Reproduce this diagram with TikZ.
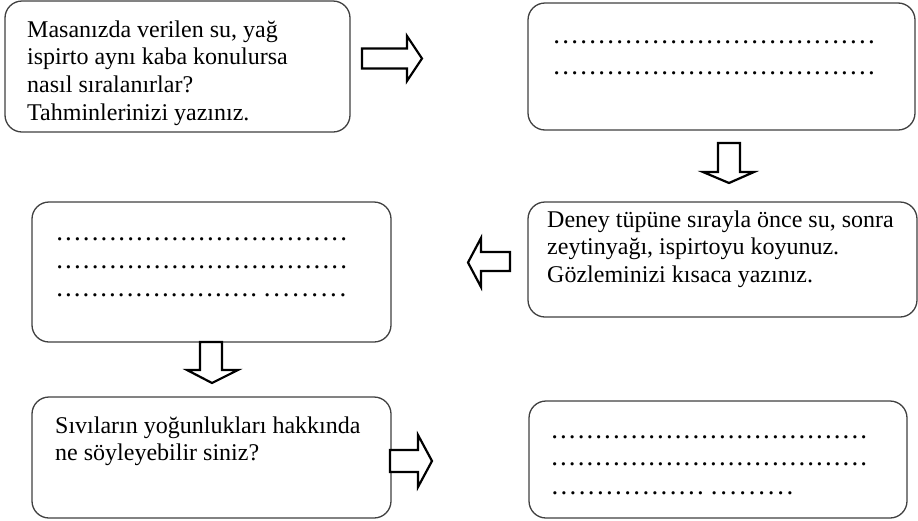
\documentclass[tikz,border=0pt]{standalone}
\usepackage{fontspec}
\setmainfont{Liberation Serif}
\tikzset{
  box/.style={draw=black!75, line width=1.3pt, rounded corners=17pt, fill=white},
  txt/.style={anchor=base west, inner sep=0pt, font=\fontsize{24pt}{27.8pt}\selectfont},
  dotrow/.style={anchor=base west, inner sep=0pt, font=\fontsize{27pt}{30pt}\selectfont},
  blockarrow/.style={draw=black, line width=2.2pt, fill=white, line join=miter, miter limit=20}
}
\newcommand{\dotsrow}[1]{\hbox to #1{\xleaders\hbox to 8.8pt{\hss.\hss}\hfill}}
\begin{document}
\begin{tikzpicture}[x=1pt,y=-1pt]
\useasboundingbox (0,0) rectangle (918,520);
% boxes
\draw[box] (5,1) rectangle (350,132) node[pos=0.5, inner sep=0] (b1) {};
\draw[box] (528,3) rectangle (915,130) node[pos=0.5, inner sep=0] (b2) {};
\draw[box] (32,202) rectangle (391,342) node[pos=0.5, inner sep=0] (b3) {};
\draw[box] (528,202) rectangle (917,317) node[pos=0.5, inner sep=0] (b4) {};
\draw[box] (32,397) rectangle (391,518) node[pos=0.5, inner sep=0] (b5) {};
\draw[box] (529,401) rectangle (907,518) node[pos=0.5, inner sep=0] (b6) {};
% texts
\node[txt] (t1) at (27,37) {\parbox[t]{320pt}{Masanızda verilen su, yağ\\ispirto aynı kaba konulursa\\nasıl sıralanırlar?\\Tahminlerinizi yazınız.}};
\node[txt] (t4) at (547,227) {\parbox[t]{370pt}{Deney tüpüne sırayla önce su, sonra\\zeytinyağı, ispirtoyu koyunuz.\\Gözleminizi kısaca yazınız.}};
\node[txt] (t5) at (55,433) {\parbox[t]{330pt}{Sıvıların yoğunlukları hakkında\\ne söyleyebilir siniz?}};
% dotted rows
\node[dotrow] (d21) at (552,43) {\dotsrow{324pt}};
\node[dotrow] (d22) at (552,74) {\dotsrow{324pt}};
\node[dotrow] (d31) at (55,240) {\dotsrow{293pt}};
\node[dotrow] (d32) at (55,268) {\dotsrow{293pt}};
\node[dotrow] (d33) at (55,296) {\dotsrow{203pt}};
\node[dotrow] (d34) at (262,296) {\dotsrow{86pt}};
\node[dotrow] (d61) at (550,438) {\dotsrow{318pt}};
\node[dotrow] (d62) at (550,465) {\dotsrow{318pt}};
\node[dotrow] (d63) at (550,494) {\dotsrow{155pt}};
\node[dotrow] (d64) at (709,494) {\dotsrow{86pt}};
% block arrows
\draw[blockarrow] (362,48.5) -- (407,48.5) -- (407,36) -- (422,58.5) -- (407,81) -- (407,68.5) -- (362,68.5) -- cycle;
\draw[blockarrow] (718,143) -- (740,143) -- (740,172) -- (754,172) -- (729,183) -- (703,172) -- (718,172) -- cycle;
\draw[blockarrow] (510,252) -- (510,271) -- (481,271) -- (481,287) -- (468,262.5) -- (481,238) -- (481,252) -- cycle;
\draw[blockarrow] (200,342) -- (222,342) -- (222,370) -- (238,370) -- (212,383) -- (187,370) -- (200,370) -- cycle;
\draw[blockarrow] (390,450) -- (418,450) -- (418,435) -- (432,461) -- (418,487) -- (418,472) -- (390,472) -- cycle;
\end{tikzpicture}
\end{document}
